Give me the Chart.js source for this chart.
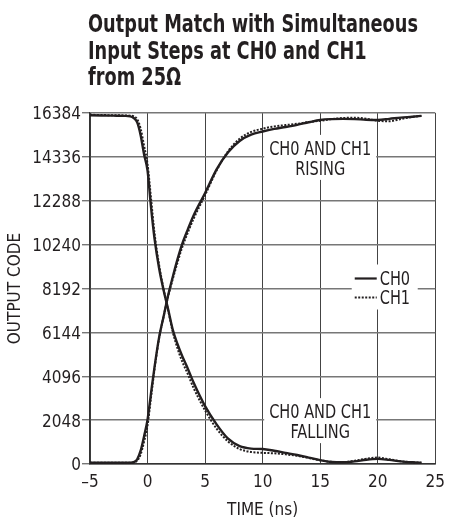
<!DOCTYPE html>
<html>
<head>
<meta charset="utf-8">
<script src="https://cdn.jsdelivr.net/npm/chart.js@4.4.1/dist/chart.umd.min.js"></script>
<style>
  html, body { margin: 0; padding: 0; background: #fff; }
  #wrap { width: 453px; height: 520px; position: relative; }
</style>
</head>
<body>
<div id="wrap"><canvas id="chart"></canvas></div>
<script>
// time axis (ns) shared by all four traces
const times = [-5, -4, -3, -2, -1.5, -1.2, -0.9, -0.6, -0.3, 0, 0.3, 0.6, 1, 1.4, 1.8, 2.2, 2.6, 3, 3.5, 4,
               5, 6, 7, 8, 9, 10, 11, 12, 13, 14, 15, 16, 17, 18, 19, 20, 21, 22, 23, 23.8];

const ch0Rise = [55, 55, 55, 55, 60, 90, 220, 620, 1300, 2070, 3300, 4500, 5900, 6900, 7900, 8750, 9550, 10250, 10950, 11600,
                 12650, 13750, 14550, 15080, 15370, 15520, 15640, 15730, 15830, 15950, 16060, 16100, 16110, 16100, 16070, 16060, 16110, 16170, 16210, 16250];
const ch1Rise = [55, 55, 55, 55, 60, 70, 160, 450, 1050, 1800, 3100, 4400, 5850, 6900, 7850, 8650, 9400, 10100, 10800, 11450,
                 12550, 13700, 14600, 15180, 15500, 15650, 15760, 15820, 15880, 15960, 16020, 16100, 16150, 16160, 16120, 16020, 16000, 16100, 16200, 16250];
const ch0Fall = [16280, 16270, 16260, 16250, 16230, 16150, 15950, 15350, 14450, 13700, 12000, 10550, 9150, 8100, 7200, 6250, 5600, 5050, 4450, 3800,
                 2700, 1850, 1180, 830, 720, 700, 620, 520, 420, 300, 180, 90, 80, 120, 200, 240, 190, 120, 80, 60];
const ch1Fall = [16300, 16290, 16280, 16270, 16260, 16230, 16100, 15650, 14850, 14000, 12400, 10800, 9300, 8150, 7150, 6150, 5400, 4800, 4200, 3550,
                 2500, 1650, 1050, 700, 560, 520, 500, 450, 380, 280, 170, 100, 90, 150, 250, 300, 220, 130, 80, 60];

const yTicks = [0, 2048, 4096, 6144, 8192, 10240, 12288, 14336, 16384];
const legendLabels = ['CH0', 'CH1'];
const titleLines = ['Output Match with Simultaneous', 'Input Steps at CH0 and CH1', 'from 25\u03A9'];

const FONT = '"DejaVu Sans Condensed", "Liberation Sans", sans-serif';
const INK = '#231f20';

function pts(values) {
    return times.map((t, i) => ({ x: t, y: values[i] }));
}

function trace(label, values, dotted) {
    return {
        label: label,
        data: pts(values),
        borderColor: INK,
        borderWidth: dotted ? 2 : 2.4,
        borderDash: dotted ? [2, 1.5] : [],
        pointRadius: 0,
        cubicInterpolationMode: 'monotone',
        fill: false
    };
}

// squeeze text horizontally to look like a condensed face
function narrowText(ctx, str, x, y, k) {
    ctx.fillText(str, x, y, ctx.measureText(str).width * k);
}

const title = {
    id: 'titleBlock',
    afterDraw(chart) {
        const ctx = chart.ctx;
        ctx.save();
        ctx.font = 'bold 25px ' + FONT;
        ctx.fillStyle = INK;
        ctx.textAlign = 'left';
        ctx.textBaseline = 'alphabetic';
        const k = 330 / ctx.measureText(titleLines[0]).width;
        titleLines.forEach((s, i) => narrowText(ctx, s, 88, 32 + i * 26.5, k));
        ctx.restore();
    }
};

// white boxes with text sitting on the grid, plus the legend
const notes = {
    id: 'notes',
    beforeDatasetsDraw(chart) {
        const ctx = chart.ctx;
        const xs = chart.scales.x, ys = chart.scales.y;
        ctx.save();
        ctx.font = '20px ' + FONT;
        ctx.textBaseline = 'middle';
        const k = 102 / ctx.measureText('CH0 AND CH1').width;
        ctx.textAlign = 'center';
        [[15, 14336, ['CH0 AND CH1', 'RISING']], [15, 2048, ['CH0 AND CH1', 'FALLING']]].forEach(n => {
            const cx = xs.getPixelForValue(n[0]);
            const cy = ys.getPixelForValue(n[1]);
            ctx.fillStyle = '#fff';
            ctx.fillRect(cx - 56, cy - 22, 112, 45);
            ctx.fillStyle = INK;
            narrowText(ctx, n[2][0], cx, cy - 7, k);
            narrowText(ctx, n[2][1], cx, cy + 13, k);
        });

        const lx = xs.getPixelForValue(20);
        const ly = ys.getPixelForValue(8192);
        ctx.fillStyle = '#fff';
        ctx.fillRect(lx - 26, ly - 24, 66, 45);
        ctx.textAlign = 'left';
        legendLabels.forEach((lab, i) => {
            const y = ly - 10 + i * 19;
            ctx.strokeStyle = INK;
            ctx.lineWidth = i === 0 ? 2.2 : 2;
            ctx.setLineDash(i === 0 ? [] : [2, 1.5]);
            ctx.beginPath();
            ctx.moveTo(lx - 23, y);
            ctx.lineTo(lx - 1, y);
            ctx.stroke();
            ctx.setLineDash([]);
            ctx.fillStyle = INK;
            narrowText(ctx, lab, lx + 2, y + 1, k);
        });
        ctx.restore();
    }
};

new Chart(document.getElementById('chart'), {
    type: 'line',
    data: {
        datasets: [
            trace('CH1 rising', ch1Rise, true),
            trace('CH1 falling', ch1Fall, true),
            trace('CH0 rising', ch0Rise, false),
            trace('CH0 falling', ch0Fall, false)
        ]
    },
    options: {
        responsive: true,
        maintainAspectRatio: false,
        animation: false,
        layout: { padding: { left: 0, right: 11, top: 113, bottom: 0 } },
        scales: {
            x: {
                type: 'linear',
                min: -5,
                max: 25,
                afterFit(scale) { scale.height = 56; },
                ticks: {
                    stepSize: 5,
                    padding: 8,
                    color: INK,
                    font: { family: FONT, size: 17 },
                    maxRotation: 0,
                    callback: v => (v < 0 ? '\u2013' + Math.abs(v) : String(v))
                },
                grid: { color: '#444', lineWidth: 1, drawTicks: false },
                border: { color: '#333', width: 1.5 },
                title: {
                    display: true,
                    text: 'TIME (ns)',
                    color: INK,
                    font: { family: FONT, size: 17, lineHeight: 1 },
                    padding: { top: 0, bottom: 1 }
                }
            },
            y: {
                min: 0,
                max: 16384,
                afterFit(scale) { scale.width = 90; },
                afterBuildTicks(scale) { scale.ticks = yTicks.map(v => ({ value: v })); },
                ticks: {
                    padding: 1,
                    labelOffset: 2,
                    color: INK,
                    font: { family: FONT, size: 17 },
                    callback: v => String(v)
                },
                grid: { color: '#777', lineWidth: 1.4, tickLength: 8 },
                border: { color: '#333', width: 1.5 },
                title: {
                    display: true,
                    text: 'OUTPUT CODE',
                    color: INK,
                    font: { family: FONT, size: 17, lineHeight: 1 },
                    padding: { top: 7.5, bottom: 0 }
                }
            }
        },
        plugins: {
            legend: { display: false },
            tooltip: { enabled: false }
        }
    },
    plugins: [notes, title]
});
</script>
</body>
</html>
